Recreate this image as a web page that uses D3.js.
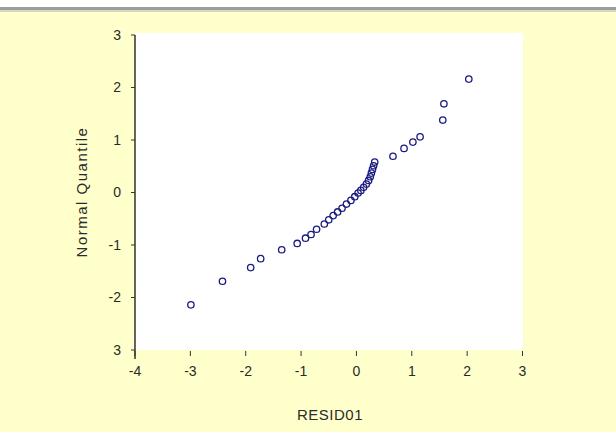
<!DOCTYPE html>
<html>
<head>
<meta charset="utf-8">
<script src="https://cdn.jsdelivr.net/npm/d3@7"></script>
<style>
  html, body { margin: 0; padding: 0; background: #FFFFCC; }
  svg { display: block; }
</style>
</head>
<body>
<script>
// ---- data ----
const residuals = [-2.99, -2.42, -1.91, -1.73, -1.35, -1.07, -0.92, -0.82, -0.72,
  -0.58, -0.50, -0.42, -0.34, -0.26, -0.18, -0.10, -0.03, 0.03, 0.08, 0.13, 0.18,
  0.22, 0.25, 0.27, 0.29, 0.31, 0.33,
  0.66, 0.86, 1.02, 1.15, 1.56, 1.58, 2.03];
const quantiles = [-2.14, -1.69, -1.43, -1.26, -1.09, -0.97, -0.87, -0.80, -0.70,
  -0.60, -0.52, -0.44, -0.37, -0.30, -0.22, -0.15, -0.08, -0.01, 0.04, 0.10, 0.16,
  0.23, 0.30, 0.37, 0.44, 0.51, 0.58,
  0.69, 0.84, 0.96, 1.06, 1.38, 1.69, 2.16];
const xTicks = [-4, -3, -2, -1, 0, 1, 2, 3];
const xTickLabels = ["-4", "-3", "-2", "-1", "0", "1", "2", "3"];
const yTicks = [-3, -2, -1, 0, 1, 2, 3];
const yTickLabels = ["3", "-2", "-1", "0", "1", "2", "3"];
const xTitle = "RESID01";
const yTitle = "Normal Quantile";

// ---- layout ----
const W = 616, H = 432;
const svg = d3.select("body").append("svg").attr("width", W).attr("height", H);

svg.append("rect").attr("x", 0).attr("y", 0).attr("width", W).attr("height", H).attr("fill", "#FFFFCC");
// top window strip
svg.append("rect").attr("x", 0).attr("y", 0).attr("width", W).attr("height", 7).attr("fill", "#FFFFFF");
svg.append("rect").attr("x", 0).attr("y", 7).attr("width", W).attr("height", 3).attr("fill", "#9C9C9C");
svg.append("rect").attr("x", 0).attr("y", 10).attr("width", W).attr("height", 2).attr("fill", "#D6D6C4");

const x = d3.scaleLinear().domain([-4, 3]).range([135, 522.5]);
const y = d3.scaleLinear().domain([-3, 3]).range([350, 35]);

// plot area
svg.append("rect")
  .attr("x", x(-4)).attr("y", 33)
  .attr("width", 523 - x(-4)).attr("height", 350 - 33)
  .attr("fill", "#FFFFFF");

const font = "'Liberation Sans', Arial, sans-serif";
const txt = "#2a2a2a";

// y axis line
svg.append("line")
  .attr("x1", x(-4)).attr("x2", x(-4))
  .attr("y1", 35).attr("y2", 359)
  .attr("stroke", "#111").attr("stroke-width", 1.3);

// y ticks + labels
const yAx = svg.append("g");
yAx.selectAll("line").data(yTicks).join("line")
  .attr("x1", x(-4) - 4).attr("x2", x(-4))
  .attr("y1", d => y(d)).attr("y2", d => y(d))
  .attr("stroke", "#333").attr("stroke-width", 1);
yAx.selectAll("text").data(yTicks).join("text")
  .attr("x", 121).attr("y", d => y(d))
  .attr("dy", "0.35em")
  .attr("text-anchor", "end")
  .attr("font-family", font).attr("font-size", 14)
  .attr("fill", txt)
  .text((d, i) => yTickLabels[i]);

// x ticks + labels
const xAx = svg.append("g");
xAx.selectAll("line").data(xTicks).join("line")
  .attr("x1", d => x(d)).attr("x2", d => x(d))
  .attr("y1", 351).attr("y2", 356)
  .attr("stroke", "#333").attr("stroke-width", 1);
xAx.selectAll("text").data(xTicks).join("text")
  .attr("x", d => x(d)).attr("y", 371)
  .attr("dy", "0.35em")
  .attr("text-anchor", "middle")
  .attr("font-family", font).attr("font-size", 14)
  .attr("fill", txt)
  .text((d, i) => xTickLabels[i]);

// axis titles
svg.append("text")
  .attr("x", 330).attr("y", 415)
  .attr("dy", "0.35em")
  .attr("text-anchor", "middle")
  .attr("font-family", font).attr("font-size", 15)
  .attr("letter-spacing", 0.5)
  .attr("fill", txt)
  .text(xTitle);

svg.append("text")
  .attr("transform", "translate(82,192) rotate(-90)")
  .attr("dy", "0.35em")
  .attr("text-anchor", "middle")
  .attr("font-family", font).attr("font-size", 15)
  .attr("letter-spacing", 1.5)
  .attr("fill", txt)
  .text(yTitle);

// points
const pts = residuals.map((r, i) => ({ r, q: quantiles[i] }));
svg.append("g").selectAll("circle").data(pts).join("circle")
  .attr("cx", d => x(d.r)).attr("cy", d => y(d.q))
  .attr("r", 3.2)
  .attr("fill", "none")
  .attr("stroke", "#1A1A80")
  .attr("stroke-width", 1.3);
</script>
</body>
</html>
